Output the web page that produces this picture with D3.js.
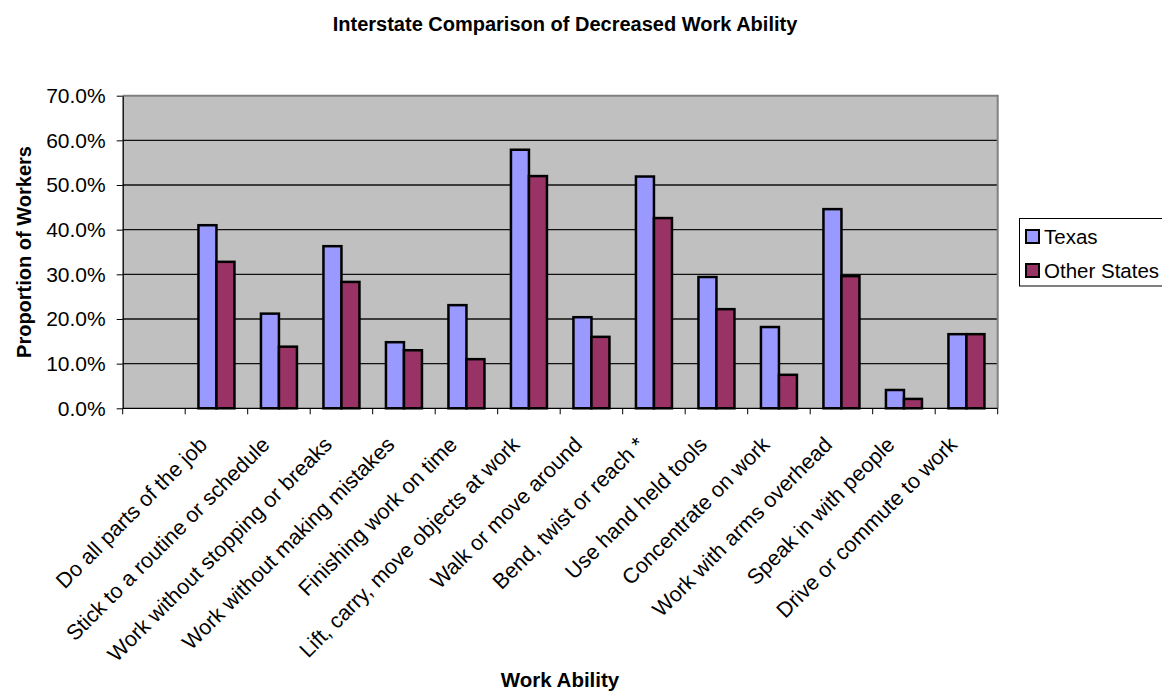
<!DOCTYPE html>
<html>
<head>
<meta charset="utf-8">
<script src="https://cdn.jsdelivr.net/npm/d3@7"></script>
<style>
  html, body { margin: 0; padding: 0; background: #fff; }
  svg { display: block; }
  text { font-family: "Liberation Sans", Arial, sans-serif; fill: #000; }
</style>
</head>
<body>
<svg id="chart" width="1162" height="693"></svg>
<script>
// Categories (the first slot is intentionally left blank on the axis)
const categories = [
  "",
  "Do all parts of the job",
  "Stick to a routine or schedule",
  "Work without stopping or breaks",
  "Work without making mistakes",
  "Finishing work on time",
  "Lift, carry, move objects at work",
  "Walk or move around",
  "Bend, twist or reach *",
  "Use hand held tools",
  "Concentrate on work",
  "Work with arms overhead",
  "Speak in with people",
  "Drive or commute to work"
];

// Share of workers reporting decreased ability (fractions)
const texas        = [null, 0.410, 0.212, 0.363, 0.148, 0.231, 0.579, 0.204, 0.519, 0.294, 0.182, 0.446, 0.041, 0.166];
const otherStates  = [null, 0.328, 0.138, 0.283, 0.130, 0.110, 0.520, 0.160, 0.426, 0.222, 0.075, 0.296, 0.021, 0.166];

const seriesNames  = ["Texas", "Other States"];
const seriesValues = [texas, otherStates];
const seriesColors = ["#9999FF", "#993366"];

const yTicks = [0, 0.1, 0.2, 0.3, 0.4, 0.5, 0.6, 0.7];

const chartTitle = "Interstate Comparison of Decreased Work Ability";
const yTitle = "Proportion of Workers";
const xTitle = "Work Ability";

// ---- layout ----
const svg = d3.select("#chart");
const plot = { left: 122.7, right: 997.7, top: 95.7, bottom: 408.3 };

const x = d3.scaleBand()
  .domain(d3.range(categories.length))
  .range([plot.left, plot.right])
  .paddingInner(0).paddingOuter(0);

const xSeries = d3.scaleBand()
  .domain(d3.range(seriesNames.length))
  .range([0, x.bandwidth()])
  .paddingInner(0).paddingOuter(0.736);

const y = d3.scaleLinear()
  .domain([0, 0.7])
  .range([plot.bottom, plot.top]);

// plot background
svg.append("rect")
  .attr("x", plot.left).attr("y", plot.top)
  .attr("width", plot.right - plot.left)
  .attr("height", plot.bottom - plot.top)
  .attr("fill", "#C0C0C0");

// horizontal gridlines
svg.append("g")
  .selectAll("line")
  .data(yTicks.filter(t => t > 0 && t < 0.7))
  .join("line")
  .attr("x1", plot.left).attr("x2", plot.right)
  .attr("y1", d => y(d))
  .attr("y2", d => y(d))
  .attr("stroke", "#111").attr("stroke-width", 1.3);

// plot border (top and right in grey)
svg.append("path")
  .attr("d", `M${plot.left},${plot.top}H${plot.right}V${plot.bottom}`)
  .attr("fill", "none").attr("stroke", "#808080").attr("stroke-width", 2);

// bars
const rows = [];
categories.forEach((c, i) => {
  seriesValues.forEach((vals, s) => {
    if (vals[i] != null) rows.push({ i, s, v: vals[i] });
  });
});

svg.append("g")
  .selectAll("rect")
  .data(rows)
  .join("rect")
  .attr("x", d => x(d.i) + xSeries(d.s))
  .attr("y", d => y(d.v))
  .attr("width", xSeries.bandwidth())
  .attr("height", d => y(0) - y(d.v))
  .attr("fill", d => seriesColors[d.s])
  .attr("stroke", "#000")
  .attr("stroke-width", 2.5);

// y axis
const yAxis = svg.append("g")
  .attr("transform", `translate(${plot.left},0)`)
  .call(d3.axisLeft(y).tickValues(yTicks).tickFormat(d3.format(".1%")).tickSize(6).tickPadding(11).tickSizeOuter(0));
yAxis.select(".domain").attr("stroke", "#000").attr("stroke-width", 1.3);
yAxis.selectAll(".tick line").attr("stroke", "#000");
yAxis.selectAll(".tick text")
  .attr("font-size", "21px")
  .attr("font-family", "Liberation Sans, Arial, sans-serif");

// x axis line and ticks at category boundaries
const xAxis = svg.append("g");
xAxis.append("line")
  .attr("x1", plot.left).attr("x2", plot.right)
  .attr("y1", plot.bottom).attr("y2", plot.bottom)
  .attr("stroke", "#000").attr("stroke-width", 1.3);
const boundaries = d3.range(categories.length).map(i => x(i)).concat([plot.right]);
xAxis.selectAll("line.tick")
  .data(boundaries)
  .join("line")
  .attr("class", "tick")
  .attr("x1", d => d).attr("x2", d => d)
  .attr("y1", plot.bottom).attr("y2", plot.bottom + 6)
  .attr("stroke", "#000");

// rotated category labels
xAxis.selectAll("text")
  .data(categories.map((c, i) => ({ c, i })).filter(d => d.c !== ""))
  .join("text")
  .attr("transform", d => `translate(${x(d.i) + x.bandwidth() / 2 - 8},446) rotate(-45)`)
  .attr("text-anchor", "end")
  .attr("font-size", "21.5px")
  .text(d => d.c);

// titles
svg.append("text")
  .attr("x", 565).attr("y", 31)
  .attr("text-anchor", "middle")
  .attr("font-weight", "bold").attr("font-size", "20px")
  .text(chartTitle);

svg.append("text")
  .attr("transform", "translate(31,252) rotate(-90)")
  .attr("text-anchor", "middle")
  .attr("font-weight", "bold").attr("font-size", "20px")
  .text(yTitle);

svg.append("text")
  .attr("x", 560).attr("y", 687)
  .attr("text-anchor", "middle")
  .attr("font-weight", "bold").attr("font-size", "20.5px")
  .text(xTitle);

// legend
const legend = svg.append("g");
legend.append("rect")
  .attr("x", 1019.5).attr("y", 218.5)
  .attr("width", 200).attr("height", 67.5)
  .attr("fill", "#fff").attr("stroke", "#000").attr("stroke-width", 1);

const items = legend.selectAll("g.item")
  .data(seriesNames.map((n, s) => ({ n, s })))
  .join("g")
  .attr("class", "item")
  .attr("transform", d => `translate(1026,${230 + d.s * 34})`);
items.append("rect")
  .attr("width", 13).attr("height", 13)
  .attr("fill", d => seriesColors[d.s])
  .attr("stroke", "#000").attr("stroke-width", 2);
items.append("text")
  .attr("x", 18).attr("y", 13.5)
  .attr("font-size", "20.5px")
  .text(d => d.n);
</script>
</body>
</html>
